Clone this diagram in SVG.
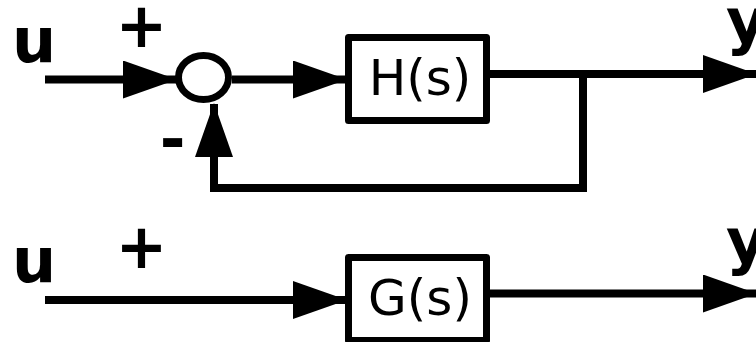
<svg xmlns="http://www.w3.org/2000/svg" width="756" height="342" viewBox="0 0 756 342">
  <style>
    .wire { fill: none; stroke: #000; stroke-width: 8; stroke-linejoin: miter; }
    .block { fill: #fff; stroke: #000; stroke-width: 7; stroke-linejoin: round; }
    .sum { fill: #fff; stroke: #000; stroke-width: 7; }
    .sig { font-family: "DejaVu Sans", "Liberation Sans", sans-serif; font-weight: bold; font-size: 62px; fill: #000; }
    .tf { font-family: "DejaVu Sans", "Liberation Sans", sans-serif; font-size: 50px; fill: #000; text-anchor: middle; }
  </style>
  <defs>
    <marker id="arrow" markerUnits="userSpaceOnUse" markerWidth="54" markerHeight="38" refX="53" refY="19" orient="auto">
      <path d="M0,0 L54,19 L0,38 Z" fill="#000"/>
    </marker>
  </defs>
  <rect width="756" height="342" fill="#fff"/>

  <g id="connectors">
    <path class="wire" d="M45,79.5 H176" marker-end="url(#arrow)"/>
    <path class="wire" d="M232,79.5 H346" marker-end="url(#arrow)"/>
    <path class="wire" d="M490,74 H756" marker-end="url(#arrow)"/>
    <path class="wire" d="M583,74 V188 H214 V104" marker-end="url(#arrow)"/>
    <path class="wire" d="M45,300 H346" marker-end="url(#arrow)"/>
    <path class="wire" d="M490,293.5 H756" marker-end="url(#arrow)"/>
  </g>

  <g id="sum">
    <ellipse class="sum" cx="203.5" cy="77.5" rx="25" ry="22"/>
  </g>

  <g id="H">
    <rect class="block" x="348.5" y="37.5" width="138" height="83"/>
    <text class="tf" x="420" y="95">H(s)</text>
  </g>

  <g id="G">
    <rect class="block" x="348.5" y="257.5" width="138" height="83"/>
    <text class="tf" x="420" y="315">G(s)</text>
  </g>

  <g id="labels">
    <text class="sig" x="12" y="62">u</text>
    <text class="sig" x="141.5" y="47" text-anchor="middle">+</text>
    <text class="sig" x="172.5" y="161" text-anchor="middle">-</text>
    <text class="sig" x="726" y="43">y</text>
    <text class="sig" x="12" y="282">u</text>
    <text class="sig" x="141.5" y="268" text-anchor="middle">+</text>
    <text class="sig" x="726" y="263">y</text>
  </g>
</svg>
